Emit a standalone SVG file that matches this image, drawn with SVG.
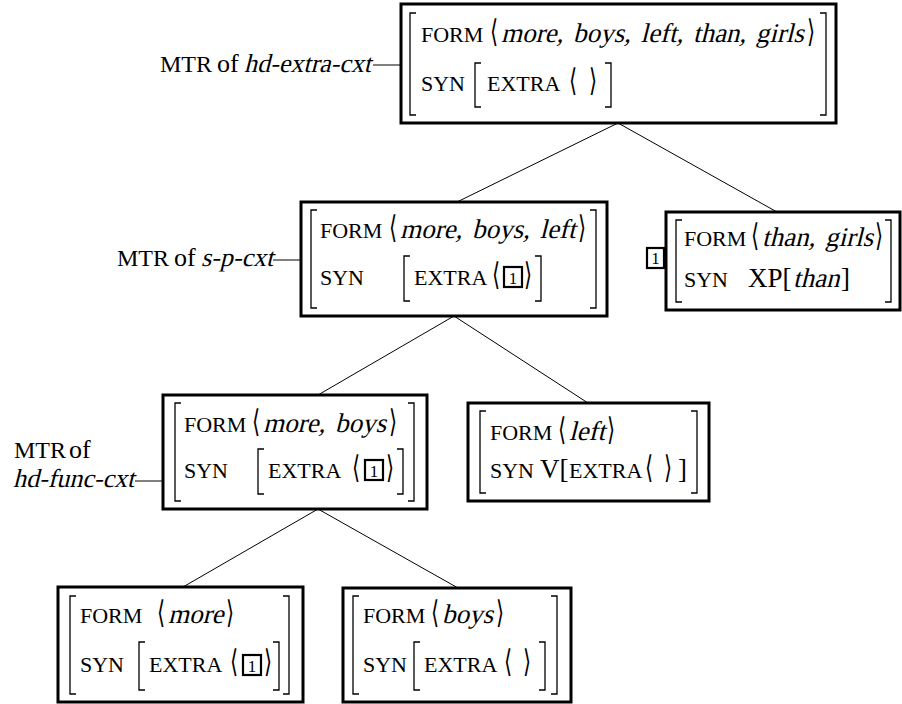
<svg xmlns="http://www.w3.org/2000/svg" width="902" height="704" viewBox="0 0 902 704">
  <style>
    text { font-family: "Liberation Serif", "DejaVu Serif", serif; fill: #000; }
    .sc { font-size: 22px; }
    .rm { font-size: 27px; }
    /* slanted serif for the italic word lists */
    .fi { font-size: 27px; word-spacing: 3px; }
    .ang { font-family: "DejaVu Sans", "DejaVu Serif", sans-serif; font-size: 26px; }
    .lab { font-size: 26px; }
    .labsc { font-size: 24px; }
    .tn { font-size: 17px; }
    .box { fill: #fff; stroke: #000; stroke-width: 3; }
    .br { fill: none; stroke: #000; stroke-width: 1.3; }
    .tag { fill: none; stroke: #000; stroke-width: 2.2; }
    .edge { fill: none; stroke: #000; stroke-width: 1; }
  </style>

  <!-- tree edges -->
  <g id="connectors">
    <line class="edge" x1="618" y1="123" x2="457" y2="202"/>
    <line class="edge" x1="618" y1="123" x2="777" y2="212"/>
    <line class="edge" x1="454" y1="316" x2="318" y2="395"/>
    <line class="edge" x1="454" y1="316" x2="588" y2="403"/>
    <line class="edge" x1="318" y1="509" x2="183" y2="587"/>
    <line class="edge" x1="318" y1="509" x2="458" y2="588"/>
  </g>

  <!-- root: hd-extra-cxt -->
  <g id="node-root">
    <text class="labsc" x="160" y="72">MTR</text>
    <text class="lab" x="217" y="72">of</text>
    <text class="lab" transform="translate(244 72) skewX(-14)">hd-extra-cxt</text>
    <line class="edge" x1="373" y1="65" x2="401" y2="65"/>
    <rect class="box" x="401" y="4" width="435" height="119"/>
    <path class="br" d="M416 13 H410 V115 H416"/>
    <path class="br" d="M820 13 H826 V115 H820"/>
    <text class="sc" x="421" y="42">FORM</text>
    <text class="ang" transform="translate(490 42) scale(0.8 1.2)">⟨</text>
    <text class="fi" transform="translate(501 42) skewX(-14)">more, boys, left, than, girls</text>
    <text class="ang" transform="translate(807 42) scale(0.8 1.2)">⟩</text>
    <text class="sc" x="421" y="91">SYN</text>
    <path class="br" d="M481 63 H475 V107 H481"/>
    <text class="sc" x="487" y="91">EXTRA</text>
    <text class="ang" transform="translate(569 91) scale(0.8 1.2)">⟨</text>
    <text class="ang" transform="translate(589 91) scale(0.8 1.2)">⟩</text>
    <path class="br" d="M605 63 H611 V107 H605"/>
  </g>

  <!-- s-p-cxt -->
  <g id="node-sp">
    <text class="labsc" x="117" y="266">MTR</text>
    <text class="lab" x="174" y="266">of</text>
    <text class="lab" transform="translate(201 266) skewX(-14)">s-p-cxt</text>
    <line class="edge" x1="273" y1="260" x2="301" y2="260"/>
    <rect class="box" x="301" y="202" width="306" height="114"/>
    <path class="br" d="M317 210 H311 V308 H317"/>
    <path class="br" d="M590 210 H596 V308 H590"/>
    <text class="sc" x="320" y="238">FORM</text>
    <text class="ang" transform="translate(389 238) scale(0.8 1.2)">⟨</text>
    <text class="fi" transform="translate(400 238) skewX(-14)">more, boys, left</text>
    <text class="ang" transform="translate(578 238) scale(0.8 1.2)">⟩</text>
    <text class="sc" x="320" y="285">SYN</text>
    <path class="br" d="M410 256 H404 V301 H410"/>
    <text class="sc" x="414" y="285">EXTRA</text>
    <text class="ang" transform="translate(492 285) scale(0.8 1.2)">⟨</text>
    <rect class="tag" x="504" y="267" width="18" height="20"/>
    <text class="tn" x="513" y="284" text-anchor="middle">1</text>
    <text class="ang" transform="translate(524 285) scale(0.8 1.2)">⟩</text>
    <path class="br" d="M535 256 H541 V301 H535"/>
  </g>

  <!-- than, girls -->
  <g id="node-than">
    <rect class="tag" x="647" y="248" width="17" height="20"/>
    <text class="tn" x="655.5" y="264" text-anchor="middle">1</text>
    <rect class="box" x="666" y="212" width="234" height="98"/>
    <path class="br" d="M682 220 H676 V302 H682"/>
    <path class="br" d="M885 220 H891 V302 H885"/>
    <text class="sc" x="684" y="246">FORM</text>
    <text class="ang" transform="translate(751 246) scale(0.8 1.2)">⟨</text>
    <text class="fi" transform="translate(762 246) skewX(-14)">than, girls</text>
    <text class="ang" transform="translate(875 246) scale(0.8 1.2)">⟩</text>
    <text class="sc" x="684" y="287">SYN</text>
    <text class="rm" x="748" y="287">XP[</text>
    <text class="fi" transform="translate(793 287) skewX(-14)">than</text>
    <text class="rm" x="841" y="287">]</text>
  </g>

  <!-- hd-func-cxt -->
  <g id="node-hdfunc">
    <text class="labsc" x="14" y="458">MTR</text>
    <text class="lab" x="69" y="458">of</text>
    <text class="lab" transform="translate(13 487) skewX(-14)">hd-func-cxt</text>
    <line class="edge" x1="135" y1="481" x2="163" y2="481"/>
    <rect class="box" x="163" y="395" width="264" height="114"/>
    <path class="br" d="M181 403 H175 V501 H181"/>
    <path class="br" d="M408 403 H414 V501 H408"/>
    <text class="sc" x="184" y="432">FORM</text>
    <text class="ang" transform="translate(252 432) scale(0.8 1.2)">⟨</text>
    <text class="fi" transform="translate(263 432) skewX(-14)">more, boys</text>
    <text class="ang" transform="translate(389 432) scale(0.8 1.2)">⟩</text>
    <text class="sc" x="184" y="478">SYN</text>
    <path class="br" d="M264 449 H258 V494 H264"/>
    <text class="sc" x="268" y="478">EXTRA</text>
    <text class="ang" transform="translate(352 478) scale(0.8 1.2)">⟨</text>
    <rect class="tag" x="365" y="460" width="18" height="20"/>
    <text class="tn" x="374" y="477" text-anchor="middle">1</text>
    <text class="ang" transform="translate(386 478) scale(0.8 1.2)">⟩</text>
    <path class="br" d="M397 449 H403 V494 H397"/>
  </g>

  <!-- left -->
  <g id="node-left">
    <rect class="box" x="468" y="403" width="241" height="98"/>
    <path class="br" d="M486 411 H480 V493 H486"/>
    <path class="br" d="M691 411 H697 V493 H691"/>
    <text class="sc" x="490" y="440">FORM</text>
    <text class="ang" transform="translate(558 440) scale(0.8 1.2)">⟨</text>
    <text class="fi" transform="translate(569 440) skewX(-14)">left</text>
    <text class="ang" transform="translate(607 440) scale(0.8 1.2)">⟩</text>
    <text class="sc" x="490" y="478">SYN</text>
    <text class="rm" x="540" y="478">V[</text>
    <text class="sc" x="569" y="478">EXTRA</text>
    <text class="ang" transform="translate(645 478) scale(0.8 1.2)">⟨</text>
    <text class="ang" transform="translate(664 478) scale(0.8 1.2)">⟩</text>
    <text class="rm" x="678" y="478">]</text>
  </g>

  <!-- more -->
  <g id="node-more">
    <rect class="box" x="58" y="587" width="245" height="115"/>
    <path class="br" d="M76 596 H70 V694 H76"/>
    <path class="br" d="M283 596 H289 V694 H283"/>
    <text class="sc" x="80" y="623">FORM</text>
    <text class="ang" transform="translate(157 623) scale(0.8 1.2)">⟨</text>
    <text class="fi" transform="translate(168 623) skewX(-14)">more</text>
    <text class="ang" transform="translate(226 623) scale(0.8 1.2)">⟩</text>
    <text class="sc" x="80" y="672">SYN</text>
    <path class="br" d="M145 642 H139 V690 H145"/>
    <text class="sc" x="149" y="672">EXTRA</text>
    <text class="ang" transform="translate(230 672) scale(0.8 1.2)">⟨</text>
    <rect class="tag" x="243" y="655" width="18" height="20"/>
    <text class="tn" x="252" y="672" text-anchor="middle">1</text>
    <text class="ang" transform="translate(264 672) scale(0.8 1.2)">⟩</text>
    <path class="br" d="M273 642 H279 V690 H273"/>
  </g>

  <!-- boys -->
  <g id="node-boys">
    <rect class="box" x="343" y="588" width="228" height="114"/>
    <path class="br" d="M359 596 H353 V694 H359"/>
    <path class="br" d="M551 596 H557 V694 H551"/>
    <text class="sc" x="363" y="623">FORM</text>
    <text class="ang" transform="translate(431 623) scale(0.8 1.2)">⟨</text>
    <text class="fi" transform="translate(442 623) skewX(-14)">boys</text>
    <text class="ang" transform="translate(496 623) scale(0.8 1.2)">⟩</text>
    <text class="sc" x="363" y="672">SYN</text>
    <path class="br" d="M420 642 H414 V690 H420"/>
    <text class="sc" x="424" y="672">EXTRA</text>
    <text class="ang" transform="translate(504 672) scale(0.8 1.2)">⟨</text>
    <text class="ang" transform="translate(523 672) scale(0.8 1.2)">⟩</text>
    <path class="br" d="M539 642 H545 V690 H539"/>
  </g>
</svg>
